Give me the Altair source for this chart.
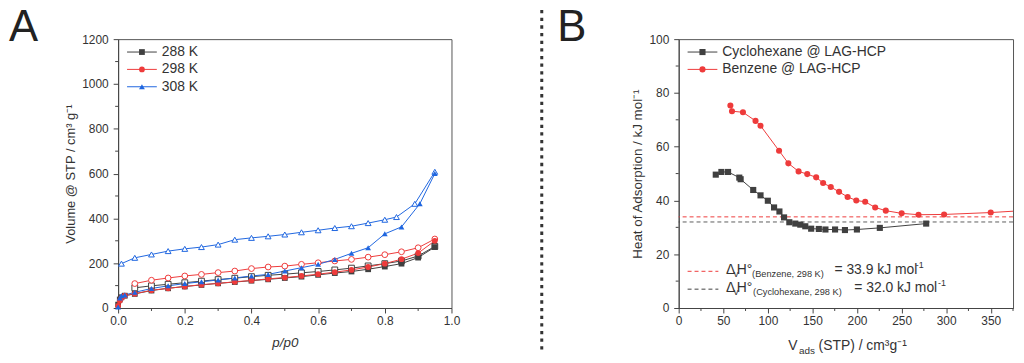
import altair as alt
import pandas as pd

FONT = "Liberation Sans"
TXT = "#333333"
AX = "#444444"
GRAY = "#404040"
RED = "#EE3B3B"
BLUE = "#1F66E0"

# ---------------- Panel A: isotherms ----------------
temps = ["288 K", "298 K", "308 K"]
shapes_a = ["square", "circle", "triangle-up"]
colors_a = [GRAY, RED, BLUE]

p_288_ads = [0.0, 0.005, 0.01, 0.02, 0.05, 0.10, 0.15, 0.20, 0.25, 0.30, 0.35, 0.40,
             0.45, 0.50, 0.55, 0.60, 0.65, 0.70, 0.75, 0.80, 0.85, 0.90, 0.95]
v_288_ads = [15, 38, 48, 55, 63, 78, 88, 96, 103, 110, 116, 122,
             128, 134, 140, 148, 156, 163, 173, 185, 198, 225, 272]
p_288_des = [0.95, 0.90, 0.85, 0.80, 0.75, 0.70, 0.65, 0.60, 0.55, 0.50,
             0.45, 0.40, 0.35, 0.30, 0.25, 0.20, 0.15, 0.10, 0.05]
v_288_des = [275, 232, 210, 198, 188, 178, 170, 163, 157, 151,
             146, 140, 133, 127, 120, 113, 106, 99, 90]

p_298_ads = [0.0, 0.005, 0.01, 0.02, 0.05, 0.10, 0.15, 0.20, 0.25, 0.30, 0.35, 0.40,
             0.45, 0.50, 0.55, 0.60, 0.65, 0.70, 0.75, 0.80, 0.85, 0.90, 0.95]
v_298_ads = [10, 32, 45, 55, 64, 79, 88, 96, 104, 110, 117, 123,
             130, 136, 143, 151, 160, 170, 183, 198, 218, 245, 300]
p_298_des = [0.95, 0.90, 0.85, 0.80, 0.75, 0.70, 0.65, 0.60, 0.55, 0.50,
             0.45, 0.40, 0.35, 0.30, 0.25, 0.20, 0.15, 0.10, 0.05]
v_298_des = [308, 269, 251, 238, 227, 217, 210, 202, 195, 187,
             183, 176, 165, 158, 150, 143, 134, 124, 109]

p_308_ads = [0.0, 0.005, 0.01, 0.02, 0.05, 0.10, 0.15, 0.20, 0.25, 0.30, 0.35, 0.40,
             0.45, 0.50, 0.55, 0.60, 0.65, 0.70, 0.75, 0.80, 0.85, 0.905, 0.95]
v_308_ads = [5, 45, 55, 58, 70, 87, 99, 109, 117, 125, 134, 143,
             150, 165, 180, 195, 217, 244, 269, 331, 362, 465, 600]
p_308_des = [0.95, 0.89, 0.835, 0.80, 0.75, 0.70, 0.65, 0.60, 0.55, 0.50,
             0.45, 0.40, 0.35, 0.30, 0.25, 0.20, 0.15, 0.10, 0.05, 0.01]
v_308_des = [608, 465, 406, 394, 379, 365, 357, 347, 338, 328,
             320, 313, 305, 283, 272, 264, 254, 239, 224, 198]

a_xticks = [0.0, 0.2, 0.4, 0.6, 0.8, 1.0]
a_xminor = [0.1, 0.3, 0.5, 0.7, 0.9]
a_yticks = [0, 200, 400, 600, 800, 1000, 1200]
a_yminor = [100, 300, 500, 700, 900, 1100]

# ---------------- Panel B: heat of adsorption ----------------
species = ["Cyclohexane @ LAG-HCP", "Benzene @ LAG-HCP"]
cyc_x = [41.6, 47.9, 55.4, 68.0, 69.5, 83.6, 91.8, 100.0, 107.0, 113.0, 118.2, 124.1,
         130.8, 136.4, 142.0, 148.6, 157.2, 164.6, 175.4, 186.5, 199.9, 225.6, 277.6]
cyc_y = [49.6, 50.6, 50.6, 48.5, 47.9, 43.9, 41.9, 39.9, 37.4, 35.9, 33.7, 31.9,
         31.4, 31.0, 30.4, 29.5, 29.4, 29.2, 29.2, 29.0, 29.2, 29.8, 31.4]
benz_x = [58.0, 59.8, 72.1, 86.2, 91.8, 112.6, 123.0, 134.5, 144.2, 154.2, 162.0,
          170.6, 179.9, 189.5, 199.2, 209.2, 220.4, 232.3, 250.1, 269.0, 297.7, 350.0]
benz_y = [75.3, 73.2, 72.8, 69.6, 67.8, 58.5, 53.8, 50.8, 49.8, 48.6, 46.5,
          45.0, 43.2, 41.3, 40.0, 39.5, 37.4, 36.2, 35.2, 34.7, 34.8, 35.5]
benz_tail_x = [375.0]
benz_tail_y = [36.0]
dH_benzene = 33.9
dH_cyclohexane = 32.0

b_xticks = [0, 50, 100, 150, 200, 250, 300, 350]
b_xminor = [25, 75, 125, 175, 225, 275, 325, 375]
b_yticks = [0, 20, 40, 60, 80, 100]
b_yminor = [10, 30, 50, 70, 90]

WA, HA = 336, 271
WB, HB = 337, 271

# ---------- build tables ----------
rows_l, rows_ads, rows_des = [], [], []
series = [
    ("288 K", p_288_ads, v_288_ads, p_288_des, v_288_des),
    ("298 K", p_298_ads, v_298_ads, p_298_des, v_298_des),
    ("308 K", p_308_ads, v_308_ads, p_308_des, v_308_des),
]
for t, pa, va, pd_, vd in series:
    k = 0
    for p, v in zip(pa, va):
        rows_l.append({"T": t, "p": p, "v": v, "ord": k}); k += 1
        rows_ads.append({"T": t, "p": p, "v": v})
    for p, v in zip(pd_, vd):
        rows_l.append({"T": t, "p": p, "v": v, "ord": k}); k += 1
        rows_des.append({"T": t, "p": p, "v": v})
dfA_line = pd.DataFrame(rows_l)
dfA_ads = pd.DataFrame(rows_ads)
dfA_des = pd.DataFrame(rows_des)

xa = alt.Scale(domain=[0, 1], nice=False, zero=False)
ya = alt.Scale(domain=[0, 1200], nice=False)
colA = alt.Scale(domain=temps, range=colors_a)
shpA = alt.Scale(domain=temps, range=shapes_a)

ax_common = dict(labelFont=FONT, labelFontSize=12, labelColor=TXT, tickColor=AX,
                 tickSize=5, domainColor=AX, grid=False, labelFlush=False,
                 labelOverlap=False, titleFont=FONT, titleFontWeight="normal",
                 titleColor=TXT)

xA_axis = alt.Axis(values=a_xticks, format=".1f", title="p/p0", titleFontStyle="italic",
                   titleFontSize=13.5, labelPadding=3, titlePadding=9, **ax_common)
yA_axis = alt.Axis(values=a_yticks, format="d", title="Volume @ STP / cm³ g⁻¹",
                   titleFontSize=13, labelPadding=5, titlePadding=4, **ax_common)

XA = lambda f: alt.X(f, scale=xa, axis=xA_axis)
YA = lambda f: alt.Y(f, scale=ya, axis=yA_axis)

lineA = alt.Chart(dfA_line).mark_line(strokeWidth=1).encode(
    x=XA("p:Q"), y=YA("v:Q"),
    color=alt.Color("T:N", scale=colA, legend=None),
    detail="T:N",
    order="ord:Q",
)
desA = alt.Chart(dfA_des).mark_point(filled=False, fill="white", size=34, strokeWidth=1,
                                     opacity=1).encode(
    x=XA("p:Q"), y=YA("v:Q"),
    color=alt.Color("T:N", scale=colA, legend=None),
    shape=alt.Shape("T:N", scale=shpA, legend=None),
)
adsA = alt.Chart(dfA_ads).mark_point(filled=True, size=34, opacity=1).encode(
    x=XA("p:Q"), y=YA("v:Q"),
    color=alt.Color("T:N", scale=colA, legend=None),
    shape=alt.Shape("T:N", scale=shpA, legend=None),
)
minAx = alt.Chart(pd.DataFrame({"p": a_xminor})).mark_rule(color=AX).encode(
    x=XA("p:Q"), y=alt.value(HA), y2=alt.value(HA + 3))
minAy = alt.Chart(pd.DataFrame({"v": a_yminor})).mark_rule(color=AX).encode(
    y=YA("v:Q"), x=alt.value(-3), x2=alt.value(0))

one = pd.DataFrame({"k": [0]})


def legend_item(x0, x1, xm, xt, y, color, shape, label, size, fs, dash=None):
    base = alt.Chart(one)
    out = []
    rule_kw = dict(color=color, strokeWidth=1)
    if dash:
        rule_kw["strokeDash"] = dash
    out.append(base.mark_rule(**rule_kw).encode(
        x=alt.value(x0), x2=alt.value(x1), y=alt.value(y)))
    if shape:
        out.append(base.mark_point(shape=shape, filled=True, color=color, size=size,
                                   opacity=1).encode(x=alt.value(xm), y=alt.value(y)))
    if label:
        out.append(base.mark_text(text=label, align="left", baseline="middle", font=FONT,
                                  fontSize=fs, color=TXT).encode(
            x=alt.value(xt), y=alt.value(y)))
    return out


def txt(s, x, y, fs, align="left", baseline="alphabetic", color=TXT, style="normal"):
    return alt.Chart(one).mark_text(text=s, align=align, baseline=baseline, font=FONT,
                                    fontSize=fs, color=color, fontStyle=style).encode(
        x=alt.value(x), y=alt.value(y))


legA = []
for i, (t, c, s) in enumerate(zip(temps, colors_a, shapes_a)):
    legA += legend_item(9, 39, 24, 44, 13 + 17.5 * i, c, s, t, 34, 14)

letterA = txt("A", -110, 2, 44, color="#222222")

panelA = alt.layer(lineA, desA, adsA, minAx, minAy, *legA, letterA).properties(
    width=WA, height=HA)

# ---------- panel B ----------
rows_b, rows_bl = [], []
for x, y in zip(cyc_x, cyc_y):
    rows_b.append({"S": species[0], "x": x, "y": y})
    rows_bl.append({"S": species[0], "x": x, "y": y})
for x, y in zip(benz_x, benz_y):
    rows_b.append({"S": species[1], "x": x, "y": y})
    rows_bl.append({"S": species[1], "x": x, "y": y})
for x, y in zip(benz_tail_x, benz_tail_y):
    rows_bl.append({"S": species[1], "x": x, "y": y})
dfB = pd.DataFrame(rows_b)
dfB_line = pd.DataFrame(rows_bl)

xb = alt.Scale(domain=[0, 375], nice=False)
yb = alt.Scale(domain=[0, 100], nice=False)
colB = alt.Scale(domain=species, range=[GRAY, RED])
shpB = alt.Scale(domain=species, range=["square", "circle"])

xB_axis = alt.Axis(values=b_xticks, format="d", title=None, labelPadding=3, **ax_common)
yB_axis = alt.Axis(values=b_yticks, format="d", title="Heat of Adsorption / kJ mol⁻¹",
                   titleFontSize=13.5, labelPadding=5, titlePadding=4, **ax_common)

XB = lambda f: alt.X(f, scale=xb, axis=xB_axis)
YB = lambda f: alt.Y(f, scale=yb, axis=yB_axis)

refB1 = alt.Chart(pd.DataFrame({"y": [dH_benzene]})).mark_rule(
    color=RED, strokeDash=[4, 3], strokeWidth=1).encode(y=YB("y:Q"))
refB2 = alt.Chart(pd.DataFrame({"y": [dH_cyclohexane]})).mark_rule(
    color=GRAY, strokeDash=[4, 3], strokeWidth=1, opacity=0.85).encode(y=YB("y:Q"))

lineB = alt.Chart(dfB_line).mark_line(strokeWidth=1).encode(
    x=XB("x:Q"), y=YB("y:Q"),
    color=alt.Color("S:N", scale=colB, legend=None),
    detail="S:N",
)
ptsB = alt.Chart(dfB).mark_point(filled=True, size=38, opacity=1).encode(
    x=XB("x:Q"), y=YB("y:Q"),
    color=alt.Color("S:N", scale=colB, legend=None),
    shape=alt.Shape("S:N", scale=shpB, legend=None),
)
minBx = alt.Chart(pd.DataFrame({"x": b_xminor})).mark_rule(color=AX).encode(
    x=XB("x:Q"), y=alt.value(HB), y2=alt.value(HB + 3))
minBy = alt.Chart(pd.DataFrame({"y": b_yminor})).mark_rule(color=AX).encode(
    y=YB("y:Q"), x=alt.value(-3), x2=alt.value(0))

legB = []
legB += legend_item(9, 39, 24, 44, 13, GRAY, "square", species[0], 38, 14)
legB += legend_item(9, 39, 24, 44, 30.5, RED, "circle", species[1], 38, 14)

# bottom legend (enthalpy of vaporisation)
yb1, yb2 = 237, 255
legB += legend_item(9, 40, 0, 0, yb1 - 3, RED, None, None, 0, 0, dash=[4, 3])
legB += legend_item(9, 40, 0, 0, yb2 - 3, GRAY, None, None, 0, 0, dash=[4, 3])
legB += [
    txt("Δ", 47.7, yb1, 14), txt("v", 55.5, yb1 + 3, 9.5), txt("H°", 58.5, yb1, 14),
    txt("(Benzene, 298 K)", 74, yb1 + 2.5, 9.3),
    txt("= 33.9 kJ mol", 157, yb1, 14), txt("-1", 239, yb1 - 6.5, 9),
    txt("Δ", 47.7, yb2, 14), txt("v", 55.5, yb2 + 3, 9.5), txt("H°", 58.5, yb2, 14),
    txt("(Cyclohexane, 298 K)", 75, yb2 + 3, 9.3),
    txt("= 32.0 kJ mol", 177, yb2, 14), txt("-1", 261.5, yb2 - 6.5, 9),
]

# x-axis title of B with subscript / superscripts
titleB = [
    txt("V", 110.5, 313, 14),
    txt("ads", 121.3, 317, 10),
    txt("(STP) / cm³g⁻¹", 141, 313, 14),
]

letterB = txt("B", -122.3, 2, 44, color="#222222")

separator = alt.Chart(one).mark_rule(color="#333333", strokeWidth=3,
                                     strokeDash=[3.3, 4.4]).encode(
    x=alt.value(-138), y=alt.value(-37), y2=alt.value(317))

panelB = alt.layer(refB1, refB2, lineB, ptsB, minBx, minBy, *legB, *titleB, letterB,
                   separator).properties(width=WB, height=HB)

chart = alt.hconcat(panelA, panelB, spacing=229, bounds="flush").properties(
    padding={"left": 0, "top": -9, "right": 0, "bottom": 0}
).configure_view(stroke="#555555", strokeWidth=1)

chart.save("out.html", embed_options={"renderer": "svg", "actions": False})
